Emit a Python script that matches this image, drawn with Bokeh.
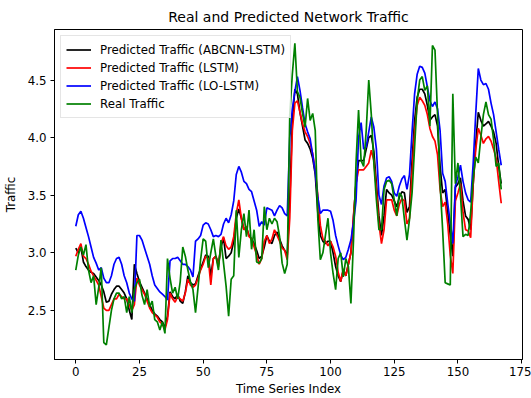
from bokeh.plotting import figure
from bokeh.models import Range1d, FixedTicker, Legend, LegendItem
from bokeh.embed import file_html
from bokeh.resources import INLINE

# Network traffic series (index 0..167)
real_traffic = [
    2.85, 2.98, 3.05, 2.98, 3.07, 2.85, 2.74, 2.8, 2.55, 2.7, 2.87, 2.22, 2.2, 2.35, 2.5, 2.6, 2.65, 2.65, 2.6, 2.62,
    2.48, 2.62, 2.48, 2.68, 2.74,
    2.77, 2.63, 2.55, 2.68, 2.53, 2.58, 2.42, 2.4, 2.33, 2.4, 2.3, 2.95, 2.78, 2.65, 2.7, 2.6, 2.75, 3.05, 2.97, 2.85,
    2.75, 2.68, 2.48, 2.7, 2.94, 3.12, 3.1, 2.87, 3.0, 3.12,
    2.97, 2.85, 3.11, 2.91, 2.71, 2.45, 2.77, 2.8, 3.37, 2.96, 3.2, 3.34, 3.14, 3.37, 3.03, 3.2, 2.92, 2.91, 2.95, 3.4,
    3.2, 3.3, 3.25, 3.3, 3.27, 3.14, 2.91, 2.82, 2.9, 4.2,
    4.55, 4.82, 4.4, 4.35, 4.21, 4.09, 4.34, 4.15, 4.21, 4.06, 3.3, 2.94, 3.0, 3.15, 3.3, 3.0, 2.82, 2.68, 2.95, 3.0,
    2.79, 2.95, 2.88, 2.56, 3.1, 3.78, 4.24,
    3.8, 3.75, 4.06, 4.5, 4.2, 3.78, 3.46, 3.2, 3.2, 3.55, 3.62, 3.63, 3.6, 3.46, 3.32, 3.52, 3.49, 3.29, 3.11, 3.29,
    3.52, 3.92, 4.32, 4.5, 4.53, 4.41, 4.45, 4.1, 4.8, 4.76,
    4.2, 3.6, 3.2, 2.74, 2.73, 2.72, 4.38, 3.6, 3.78, 3.5, 3.14, 3.16, 3.15, 3.35, 3.65, 3.83, 3.78, 4.0, 4.2, 4.31,
    4.2, 4.16, 3.98, 3.75, 3.78, 3.55,
]

pred_abcnn_lstm = [
    3.04, 3.0, 3.05, 2.92, 2.88, 2.85, 2.83, 2.82, 2.79, 2.76, 2.72, 2.66, 2.57, 2.58, 2.64, 2.68, 2.71, 2.71, 2.68, 2.65,
    2.6, 2.5, 2.42, 2.9, 2.82,
    2.75, 2.7, 2.65, 2.6, 2.55, 2.5, 2.47, 2.45, 2.42, 2.4, 2.35, 2.45, 2.66, 2.62, 2.6, 2.64, 2.58, 2.56, 2.66, 2.8,
    2.74, 2.72, 2.73, 2.8, 2.86, 2.92, 2.98, 2.97, 2.8, 2.95,
    2.97, 2.9, 3.05, 3.13, 2.95, 2.97, 3.0, 3.1, 3.3, 3.38, 3.3, 3.2, 3.22, 3.15, 3.12, 3.08, 3.02, 2.95, 2.97, 3.05,
    3.15, 3.1, 3.08, 3.15, 3.18, 3.12, 3.06, 3.02, 2.98, 3.45,
    4.15, 4.42, 4.38, 4.22, 4.1, 3.98, 3.95, 3.9, 3.82, 3.68, 3.35, 3.15, 3.1, 3.08, 3.1, 3.1, 3.0, 2.88, 2.8, 2.75,
    2.85, 2.8, 2.9, 3.0, 3.3, 3.6, 3.8,
    3.8, 3.8, 3.9, 4.0, 4.02, 3.88, 3.6, 3.32, 3.15, 3.32, 3.55, 3.52, 3.5, 3.45, 3.4, 3.48, 3.53, 3.52, 3.35, 3.4,
    3.8, 4.15, 4.35, 4.42, 4.42, 4.38, 4.28, 4.15, 4.18, 4.2,
    4.1, 3.75, 3.52, 3.55, 3.35, 3.15, 2.97, 3.57, 3.6, 3.65, 3.45, 3.32, 3.29, 3.2, 3.6, 3.95, 4.22, 4.15, 4.1, 4.12,
    4.14, 4.1, 4.05, 3.95, 3.75, 3.6,
]

pred_lstm = [
    2.97, 3.03, 3.08, 2.97, 2.95, 2.9, 2.84, 2.8, 2.76, 2.72, 2.62, 2.52, 2.5, 2.5, 2.55, 2.6, 2.6, 2.64, 2.62, 2.6,
    2.6, 2.55, 2.5, 2.55, 2.78,
    2.72, 2.68, 2.64, 2.58, 2.52, 2.48, 2.46, 2.44, 2.4, 2.38, 2.33, 2.42, 2.65, 2.6, 2.57, 2.62, 2.6, 2.58, 2.65, 2.77,
    2.72, 2.7, 2.72, 2.78, 2.85, 2.9, 2.97, 2.95, 2.72, 2.95,
    2.97, 2.88, 3.08, 3.14, 3.06, 3.03, 3.05, 3.14, 3.34, 3.46, 3.3, 3.2, 3.23, 3.14, 3.12, 3.05, 2.98, 2.9, 2.95, 3.1,
    3.15, 3.08, 3.12, 3.2, 3.15, 3.1, 3.04, 3.02, 2.94, 3.3,
    4.06, 4.3, 4.32, 4.22, 4.12, 4.05, 4.01, 3.95, 3.86, 3.72, 3.5, 3.24, 3.12, 3.1, 3.06, 3.1, 3.05, 2.97, 2.83, 2.75,
    2.86, 2.8, 2.9, 3.0, 3.32, 3.6, 3.72,
    3.72, 3.72, 3.75, 3.78, 3.89, 3.8, 3.55, 3.25, 3.08, 3.2, 3.46, 3.46, 3.46, 3.37, 3.32, 3.42, 3.47, 3.45, 3.25, 3.3,
    3.7, 4.05, 4.28, 4.35, 4.32, 4.28, 4.2, 4.08, 4.01, 3.97,
    3.85, 3.55, 3.4, 3.44, 3.25, 2.98, 2.82, 3.45, 3.52, 3.6, 3.35, 3.2, 3.19, 3.13, 3.6, 3.9, 4.08, 4.02, 3.95, 3.99,
    4.01, 3.97, 3.9, 3.82, 3.62, 3.43,
]

pred_lo_lstm = [
    3.23, 3.33, 3.36, 3.3, 3.22, 3.14, 3.05, 2.96, 2.91, 2.85, 2.87, 2.78, 2.74, 2.74, 2.8, 2.9, 2.95, 2.96, 2.9, 2.8,
    2.74, 2.65, 2.6, 2.58, 3.15,
    3.15, 3.11, 3.04, 2.97, 2.9, 2.8, 2.72, 2.69, 2.66, 2.64, 2.62, 2.59, 2.93, 2.95, 2.95, 2.96, 2.93, 2.9, 2.9, 2.88,
    2.85, 2.79, 3.1, 3.12, 3.15, 3.24, 3.26, 3.25, 3.2, 3.14,
    3.15, 3.14, 3.16, 3.25, 3.3, 3.26, 3.33, 3.45, 3.68, 3.75, 3.7, 3.62, 3.6, 3.55, 3.53, 3.45, 3.37, 3.23, 3.27, 3.24,
    3.39, 3.38, 3.37, 3.32, 3.37, 3.41, 3.39, 3.34, 3.32, 4.0,
    4.25, 4.4, 4.53, 4.41, 4.26, 4.12, 4.05, 3.99, 3.85, 3.7, 3.48, 3.34, 3.37, 3.37, 3.37, 3.36, 3.28, 3.15, 3.06, 2.98,
    2.94, 2.96, 3.03, 3.11, 3.26, 3.45, 4.0,
    4.13, 3.9, 3.92, 4.05, 4.18, 4.09, 3.9, 3.5, 3.42, 3.58, 3.65, 3.66, 3.62, 3.52, 3.49, 3.58, 3.64, 3.67, 3.55, 3.68,
    4.05, 4.38, 4.55, 4.62, 4.61, 4.56, 4.44, 4.32, 4.27, 4.31,
    4.25, 4.06, 3.69, 3.62, 3.43, 3.26, 3.08, 3.58, 3.66, 3.76, 3.62, 3.52, 3.46, 3.44, 3.78, 4.21, 4.6, 4.5, 4.46, 4.47,
    4.42, 4.3, 4.2, 4.05, 3.9, 3.76,
]

series_labels = [
    "Predicted Traffic (ABCNN-LSTM)",
    "Predicted Traffic (LSTM)",
    "Predicted Traffic (LO-LSTM)",
    "Real Traffic",
]
series_colors = ["#000000", "#ff0000", "#0000ff", "#008000"]

x_ticks = [0, 25, 50, 75, 100, 125, 150, 175]
y_ticks = [2.5, 3.0, 3.5, 4.0, 4.5]
y_tick_labels = ["2.5", "3.0", "3.5", "4.0", "4.5"]

FONT = "DejaVu Sans"
TEXT_SIZE = "11.8px"

p = figure(
    width=531, height=398,
    output_backend="svg", toolbar_location=None,
    x_range=Range1d(-8.35, 175.35), y_range=Range1d(2.073, 4.939),
    min_border_left=53, min_border_right=9, min_border_top=29, min_border_bottom=38,
    title="Real and Predicted Network Traffic",
)
p.background_fill_color = "white"
p.border_fill_color = "white"
p.outline_line_color = "black"
p.outline_line_width = 1
p.grid.visible = False

p.title.align = "center"
p.title.text_font = FONT
p.title.text_font_size = "14px"
p.title.text_font_style = "normal"
p.title.text_color = "black"

for ax in (p.xaxis[0], p.yaxis[0]):
    ax.major_tick_in = 0
    ax.major_tick_out = 4
    ax.minor_tick_out = 0
    ax.minor_tick_in = 0
    ax.major_label_text_font = FONT
    ax.major_label_text_font_size = TEXT_SIZE
    ax.major_label_text_color = "black"
    ax.axis_label_text_font = FONT
    ax.axis_label_text_font_size = TEXT_SIZE
    ax.axis_label_text_font_style = "normal"
    ax.axis_label_text_color = "black"
    ax.axis_line_color = "black"
    ax.major_tick_line_color = "black"

p.xaxis[0].ticker = FixedTicker(ticks=x_ticks)
p.yaxis[0].ticker = FixedTicker(ticks=y_ticks)
p.yaxis[0].major_label_overrides = {t: s for t, s in zip(y_ticks, y_tick_labels)}
p.xaxis[0].axis_label = "Time Series Index"
p.yaxis[0].axis_label = "Traffic"
p.xaxis[0].major_label_standoff = 3
p.xaxis[0].axis_label_standoff = 3
p.yaxis[0].major_label_standoff = 4
p.yaxis[0].axis_label_standoff = 7

items = []
for ys, label, color in zip(
    [pred_abcnn_lstm, pred_lstm, pred_lo_lstm, real_traffic], series_labels, series_colors
):
    xs = list(range(len(ys)))
    r = p.line(xs, ys, line_color=color, line_width=1.7)
    items.append(LegendItem(label=label, renderers=[r]))

legend = Legend(
    items=items, location="top_left",
    margin=6, padding=5, spacing=1,
    glyph_width=25, glyph_height=17, label_height=17, label_standoff=9,
    label_text_font=FONT, label_text_font_size=TEXT_SIZE, label_text_color="black",
    border_line_color="#cccccc", border_line_width=1,
    background_fill_color="white", background_fill_alpha=0.8,
)
p.add_layout(legend)

open("out.html", "w").write(file_html(p, INLINE))
